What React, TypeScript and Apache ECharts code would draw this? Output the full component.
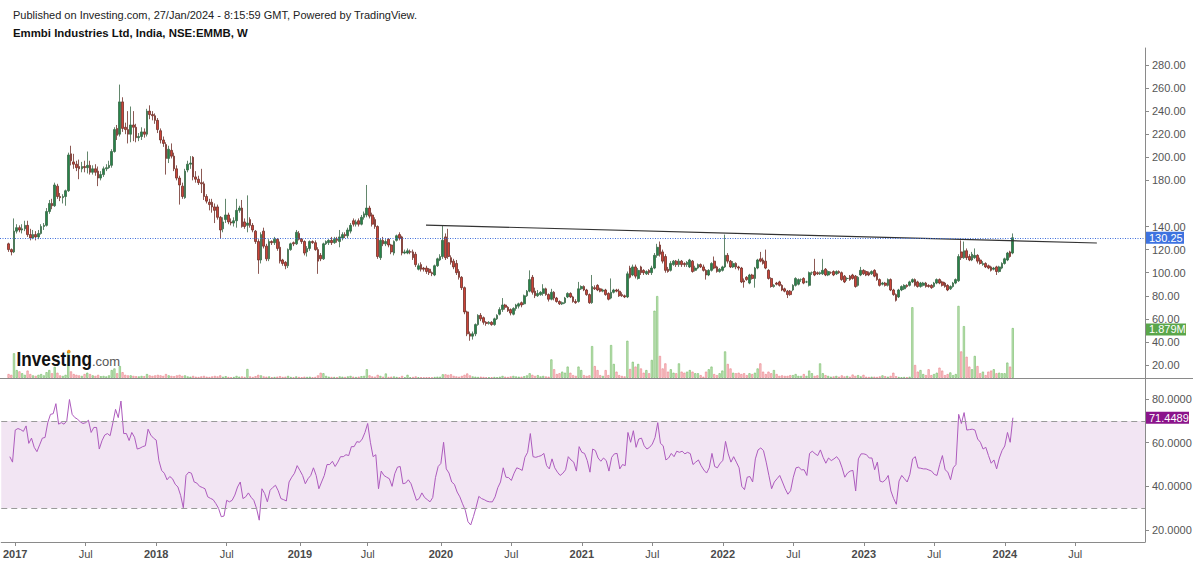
import React, { useEffect, useRef } from "react";
import * as echarts from "echarts";

// Weekly candles: [open, close, low, high]; week 0 = first week of Jan 2017
const ohlcDec2016 = [[125,120,118,126],[120,118,115,121]];
const ohlc2017 = [
[118,136,117,147],[136,139,134,142],[139,137,135,141],[137,138,134,142],[138,141,136,145],[141,133,131,145],[133,130,128,138],[130,133,129,137],[133,131,128,136],[131,134,129,137],
[134,140,133,142],[140,141,137,143],[141,153,140,156],[153,160,151,163],[160,158,155,164],[158,176,157,178],[175,166,164,177],[166,165,162,169],[165,166,160,168],[166,171,158,172],
[171,202,170,204],[203,197,193,210],[196,194,190,203],[194,191,188,197],[192,190,181,198],[190,192,187,196],[192,191,187,197],[191,193,186,205],[193,187,185,197],[187,190,185,193],
[190,187,184,194],[188,182,175,192],[182,185,180,188],[185,190,183,192],[190,191,188,194],[191,193,190,197],[193,205,191,207],[205,224,204,226],[225,219,215,228],[220,248,218,263],
[248,225,222,252],[226,224,220,230],[224,220,212,240],[220,228,213,244],[228,226,214,240],[226,217,213,229],[217,218,214,221],[218,222,215,226],[222,220,217,225],[220,240,218,242],
[240,237,233,245],[237,236,232,240]];
const ohlc2018 = [
[236,232,229,238],[232,224,221,234],[223,215,212,225],[215,212,209,218],[211,199,185,213],[199,207,195,210],[206,201,199,212],[201,190,188,204],[190,182,180,193],[182,176,159,184],
[175,166,164,178],[165,188,164,190],[189,194,187,197],[194,195,190,201],[200,183,180,201],[183,181,178,188],[181,178,176,184],[178,177,169,190],[177,166,163,179],[166,162,160,168],
[161,159,154,164],[161,157,152,164],[157,154,143,160],[157,148,146,159],[148,137,130,149],[138,144,135,148],[146,150,143,164],[150,144,142,152],[144,143,141,147],[143,145,140,148],
[145,154,139,164],[154,156,152,158],[156,140,139,163],[144,140,138,147],[141,143,135,167],[146,141,139,148],[141,137,135,143],[136,127,125,137],[127,111,99,129],[111,133,108,135],
[136,123,121,139],[123,112,110,125],[112,127,110,129],[127,126,124,128],[126,129,124,131],[129,121,119,130],[122,110,108,127],[111,108,106,112],[109,106,103,110],[106,120,104,121],
[120,125,119,126],[126,125,123,127]];
const ohlc2019 = [
[125,135,124,137],[134,129,128,136],[129,127,125,130],[127,117,115,128],[118,121,114,123],[121,127,119,128],[127,126,125,128],[126,120,119,128],[120,110,99,122],[115,112,110,117],
[112,125,111,126],[125,127,124,128],[126,128,124,129],[128,126,124,131],[126,129,125,131],[129,128,126,131],[127,131,122,137],[130,133,128,135],[133,132,130,135],[132,137,130,139],
[136,141,134,143],[145,142,140,147],[142,144,140,146],[145,142,140,147],[142,148,141,150],[148,151,146,153],[150,156,148,176],[156,149,147,158],[150,142,140,152],[146,140,138,148],
[140,114,112,141],[113,128,111,130],[128,125,123,131],[125,127,123,129],[129,124,122,130],[124,118,116,125],[117,127,115,128],[128,132,127,133],[133,130,128,135],[131,117,115,132],
[117,118,116,120],[117,119,116,121],[118,118,116,120],[118,113,111,120],[116,107,105,118],[103,106,102,108],[107,103,101,109],[104,103,101,105],[104,101,99,106],[103,100,98,104],
[100,99,97,101],[98,106,97,107],[106,112,105,113]];
const ohlc2020 = [
[111,114,110,116],[114,128,112,141],[131,113,111,134],[126,114,112,138],[113,109,107,115],[110,105,103,112],[108,100,98,111],[101,96,94,103],[96,87,85,97],[87,66,64,88],
[66,47,45,67],[47,45,41,49],[45,47,42,49],[47,55,45,56],[55,63,54,64],[63,60,58,65],[61,57,55,62],[57,56,54,58],[56,57,55,58],[57,55,54,58],
[55,60,54,61],[60,63,59,64],[64,68,63,70],[68,72,66,78],[72,70,68,73],[70,67,66,71],[68,65,63,69],[64,69,63,70],[69,72,67,73],[71,73,69,74],
[74,72,70,75],[73,80,72,81],[80,84,79,85],[84,94,83,102],[96,83,81,98],[84,80,78,87],[80,82,79,85],[81,83,80,84],[82,86,80,90],[86,81,80,87],
[81,77,75,82],[77,83,76,86],[83,78,76,84],[78,75,74,79],[75,73,72,76],[73,74,72,75],[74,78,73,79],[79,82,78,83],[82,79,78,83],[79,75,74,80],
[75,74,73,77],[75,86,74,92]];
const ohlc2021 = [
[86,88,85,89],[88,85,84,89],[85,81,80,86],[81,74,73,82],[74,88,73,98],[87,86,85,89],[89,85,84,90],[86,84,83,87],[84,85,83,86],[85,81,80,86],
[82,77,76,83],[78,83,77,95],[83,85,82,86],[85,84,83,86],[84,80,79,86],[81,80,79,83],[80,79,78,81],[79,99,78,101],[104,96,95,106],[98,105,97,107],
[105,97,95,107],[95,102,94,104],[105,100,98,106],[102,100,98,103],[99,101,98,102],[102,100,98,103],[100,104,98,106],[104,115,103,117],[115,122,113,125],[124,116,114,127],
[118,110,108,120],[114,102,100,116],[103,101,100,105],[102,108,101,110],[107,110,106,111],[110,107,105,111],[107,110,105,112],[110,107,105,111],[108,107,105,109],[107,109,105,110],
[105,111,104,112],[110,101,100,111],[102,104,101,106],[104,107,103,108],[107,105,104,108],[105,102,101,107],[102,98,94,103],[98,102,97,103],[102,108,101,109],[110,104,103,114],
[105,101,100,106],[101,103,100,104]];
const ohlc2022 = [
[102,105,101,106],[105,115,104,133],[115,110,108,117],[110,105,104,111],[105,108,104,110],[108,105,103,109],[105,104,102,106],[104,92,91,105],[93,92,87,95],[96,94,93,97],
[91,98,90,99],[98,95,94,99],[95,104,87,105],[104,111,103,112],[112,110,109,118],[111,108,107,113],[110,104,103,120],[102,95,94,103],[95,88,87,96],[88,89,87,90],
[91,90,89,92],[92,89,88,93],[89,85,84,90],[86,84,83,87],[84,81,78,85],[84,81,80,85],[85,89,84,90],[89,95,88,96],[90,94,89,95],[94,94,92,95],
[95,91,90,96],[92,92,91,93],[89,100,88,101],[100,100,98,101],[101,98,97,112],[100,99,98,101],[99,100,98,101],[99,102,98,112],[103,98,97,104],[98,101,97,102],
[100,100,99,101],[101,98,97,102],[99,101,98,102],[101,100,99,102],[100,94,93,101],[97,92,91,98],[95,95,93,96],[97,94,93,98],[98,95,94,99],[97,88,87,98],
[89,96,88,97],[98,102,97,105]];
const ohlc2023 = [
[102,99,98,103],[101,98,97,102],[100,98,97,101],[99,101,98,102],[102,97,96,103],[99,94,93,100],[94,89,88,95],[90,91,89,92],[91,89,88,92],[89,94,88,95],
[94,85,84,95],[85,81,80,86],[81,76,75,82],[79,85,78,86],[85,88,84,89],[86,89,85,90],[89,88,87,90],[89,92,88,93],[92,94,91,95],[94,89,88,95],
[92,88,87,93],[88,91,87,92],[89,91,88,92],[91,88,87,92],[89,88,87,90],[89,87,86,90],[88,91,87,92],[91,94,90,95],[94,91,90,95],[92,89,88,93],
[91,88,87,92],[89,85,84,90],[86,88,85,89],[88,91,87,92],[91,94,90,95],[93,114,92,116],[118,113,111,128],[113,119,112,127],[119,113,111,121],[114,111,110,116],
[111,116,110,118],[113,115,112,121],[115,110,108,116],[111,108,107,113],[107,108,106,110],[108,105,104,109],[106,104,103,107],[105,102,101,106],[103,104,102,105],[105,101,98,106],
[101,105,100,106],[104,108,103,109]];
const ohlc2024 = [[108,112,107,113],[111,117,110,118],[118,114,113,119],[117,130.25,116,134]];

// Weekly volume, millions
const volDec2016 = [0.15,0.12];
const vol2017 = [0.93,0.30,0.25,0.18,0.12,0.28,0.15,0.10,0.08,0.12,0.15,0.10,0.22,0.30,0.18,0.42,0.20,0.10,0.08,0.12,1.00,0.25,0.15,0.12,0.10,0.08,0.15,0.20,0.15,0.10,0.08,0.12,0.07,0.08,0.06,0.10,0.30,0.36,0.18,0.45,0.22,0.12,0.10,0.10,0.08,0.07,0.06,0.08,0.07,0.15,0.10,0.08];
const vol2018 = [0.10,0.12,0.10,0.08,0.15,0.10,0.08,0.07,0.10,0.12,0.08,0.10,0.06,0.05,0.08,0.05,0.04,0.06,0.08,0.05,0.04,0.06,0.08,0.06,0.10,0.05,0.07,0.04,0.03,0.04,0.08,0.05,0.06,0.04,0.34,0.06,0.04,0.07,0.12,0.10,0.06,0.05,0.06,0.03,0.04,0.05,0.07,0.04,0.05,0.08,0.04,0.03];
const vol2019 = [0.06,0.04,0.03,0.05,0.04,0.05,0.03,0.04,0.10,0.20,0.18,0.08,0.05,0.04,0.04,0.03,0.06,0.05,0.04,0.06,0.08,0.05,0.04,0.05,0.07,0.08,0.33,0.10,0.06,0.05,0.12,0.08,0.05,0.17,0.04,0.05,0.06,0.04,0.03,0.08,0.03,0.12,0.03,0.04,0.06,0.03,0.03,0.02,0.03,0.03,0.02,0.04,0.05];
const vol2020 = [0.05,0.14,0.14,0.12,0.14,0.08,0.06,0.05,0.08,0.12,0.17,0.10,0.06,0.05,0.04,0.05,0.04,0.03,0.03,0.03,0.04,0.03,0.05,0.08,0.05,0.04,0.06,0.08,0.06,0.05,0.05,0.07,0.10,0.18,0.12,0.08,0.11,0.06,0.08,0.06,0.05,0.70,0.33,0.15,0.18,0.24,0.20,0.43,0.20,0.11,0.08,0.43];
const vol2021 = [0.30,0.11,0.08,0.10,1.20,0.45,0.30,0.11,0.08,0.30,0.11,1.24,0.53,0.24,0.11,0.08,0.06,1.40,0.34,0.61,0.43,0.53,0.36,0.20,0.30,0.18,0.68,2.53,3.08,0.83,0.36,0.55,0.24,0.33,0.20,0.18,0.55,0.24,0.20,0.24,0.30,0.24,0.18,0.18,0.11,0.05,0.24,0.33,0.43,0.15,0.11,0.18];
const vol2022 = [0.28,1.00,0.53,0.36,0.20,0.18,0.20,0.15,0.18,0.11,0.18,0.15,0.20,0.36,0.55,0.24,0.15,0.24,0.18,0.30,0.15,0.08,0.10,0.08,0.08,0.11,0.11,0.15,0.08,0.08,0.15,0.08,0.28,0.18,0.08,0.10,0.55,0.18,0.11,0.08,0.05,0.06,0.08,0.05,0.10,0.06,0.08,0.05,0.13,0.08,0.11,0.06];
const vol2023 = [0.12,0.05,0.04,0.05,0.05,0.04,0.06,0.10,0.07,0.05,0.08,0.20,0.07,0.04,0.03,0.04,0.03,0.05,2.66,0.49,0.24,0.30,0.15,0.11,0.33,0.11,0.15,0.20,0.39,0.28,0.11,0.15,0.21,0.11,0.15,2.71,1.00,1.95,0.80,0.43,0.33,0.83,0.45,0.18,0.24,0.11,0.24,0.28,0.33,0.18,0.20,0.18];
const vol2024 = [0.18,0.58,0.43,1.879];

// RSI(14)
const rsiDec2016 = [53.6,51.1];
const rsi2017 = [65.8,66.5,66.0,65.2,67.7,59.7,62.1,57.9,55.9,59.0,62.1,62.4,69.2,73.0,73.3,77.9,68.5,69.2,68.5,70.0,79.8,73.0,71.5,70.8,69.5,68.8,69.2,70.3,64.7,67.0,67.0,57.1,60.9,63.5,64.2,63.2,69.0,75.3,71.5,79.1,64.2,64.2,61.0,64.7,62.5,57.1,57.5,58.2,58.6,66.2,63.5,62.1];
const rsi2018 = [61.2,51.8,47.3,46.0,43.0,44.5,43.5,41.0,39.7,35.9,30.2,45.0,46.5,46.0,42.0,41.5,40.0,39.5,38.9,35.2,34.5,33.9,32.1,29.9,26.1,26.4,33.6,32.9,33.6,36.0,39.7,42.0,34.4,35.2,37.0,35.0,33.6,29.9,24.5,38.9,36.7,32.9,38.2,39.5,40.5,38.0,34.4,33.9,33.3,42.0,44.2,46.0];
const rsi2019 = [49.5,47.3,45.0,41.2,43.5,45.0,48.5,45.0,38.9,42.0,45.0,50.0,50.0,51.5,49.1,51.1,53.6,53.6,54.5,54.1,58.2,58.2,60.5,60.2,61.7,64.7,68.8,60.2,53.6,54.5,38.9,47.0,45.0,44.2,43.5,40.0,45.8,48.8,49.1,41.2,41.5,43.0,41.2,37.4,33.6,34.4,37.0,34.9,33.9,32.9,34.9,44.0,49.1];
const rsi2020 = [50.5,60.2,48.0,46.1,42.0,40.9,37.4,35.2,32.0,29.1,23.8,22.3,26.1,30.5,35.4,34.4,33.9,33.2,32.9,32.9,35.2,39.4,42.0,48.5,44.2,44.0,42.7,46.0,48.5,48.0,47.3,53.3,55.6,64.2,53.6,53.3,53.7,54.1,55.1,49.5,48.0,52.6,48.5,46.5,45.0,46.0,47.6,53.6,52.1,51.1,47.0,58.2];
const rsi2021 = [55.6,55.1,51.8,46.5,57.1,56.4,53.0,51.5,53.0,51.8,47.0,53.3,54.9,55.1,48.0,50.0,49.5,64.7,60.2,65.5,57.9,61.7,62.1,58.6,57.1,57.9,59.4,62.4,69.2,59.7,58.6,52.1,53.0,55.1,53.6,56.1,55.6,56.1,54.9,55.6,55.0,50.0,51.1,52.1,49.5,47.5,46.1,48.5,55.1,49.1,48.5,50.6];
const rsi2022 = [51.8,60.6,54.9,51.1,53.6,51.1,48.5,40.0,38.5,44.2,44.5,42.0,52.6,56.7,57.6,56.4,51.1,45.0,38.9,42.0,43.5,45.0,42.0,38.9,36.4,38.0,44.2,48.5,48.8,47.6,47.6,45.0,55.1,56.1,55.0,54.1,56.7,53.3,50.6,53.0,51.8,52.6,53.6,52.0,48.5,44.2,46.1,47.0,47.3,37.9,52.6,54.9];
const rsi2023 = [54.9,54.5,53.0,53.0,47.6,51.1,42.4,42.0,43.0,45.0,37.9,34.4,31.8,42.4,45.0,43.5,42.0,45.5,52.6,53.6,48.5,48.3,48.0,48.0,47.5,47.0,45.5,45.0,50.0,54.1,47.6,46.5,43.0,48.5,50.0,73.0,68.8,73.8,65.8,66.0,66.2,65.8,61.7,60.2,57.1,57.9,54.1,50.6,52.1,48.0,53.0,56.4];
const rsi2024 = [58.5,64.7,60.2,71.4489];

const segments = [
  { start: -2, ohlc: ohlcDec2016, vol: volDec2016, rsi: rsiDec2016 },
  { start: 0, ohlc: ohlc2017, vol: vol2017, rsi: rsi2017 },
  { start: 52, ohlc: ohlc2018, vol: vol2018, rsi: rsi2018 },
  { start: 104, ohlc: ohlc2019, vol: vol2019, rsi: rsi2019 },
  { start: 157, ohlc: ohlc2020, vol: vol2020, rsi: rsi2020 },
  { start: 209, ohlc: ohlc2021, vol: vol2021, rsi: rsi2021 },
  { start: 261, ohlc: ohlc2022, vol: vol2022, rsi: rsi2022 },
  { start: 313, ohlc: ohlc2023, vol: vol2023, rsi: rsi2023 },
  { start: 365, ohlc: ohlc2024, vol: vol2024, rsi: rsi2024 },
];

const priceTicks = [20, 40, 60, 80, 100, 120, 140, 180, 200, 220, 240, 260, 280];
const rsiTicks = [20, 40, 60, 80];
const timeTicks = [0, 26, 52, 78, 105, 130, 157, 183, 209, 235, 261, 287, 313, 339, 365, 391];
const timeLabels = ["2017", "Jul", "2018", "Jul", "2019", "Jul", "2020", "Jul", "2021", "Jul", "2022", "Jul", "2023", "Jul", "2024", "Jul"];
const trendLine = [[151.8, 141.2], [399.0, 125.7]];
const lastClose = 130.25;
const lastVolume = 1.879;
const lastRsi = 71.4489;

const FONT = '"Liberation Sans", Arial, sans-serif';
const X0 = 14;
const PXW = 2.714;
const PLOT_W = 1145;
const XMIN = -X0 / PXW;
const XMAX = (PLOT_W - X0) / PXW;

export default function App() {
  const ref = useRef<HTMLDivElement>(null);
  useEffect(() => {
    if (!ref.current) return;
    const chart = echarts.init(ref.current, null, { renderer: "svg" });
    const candles: number[][] = [];
    const vols: any[] = [];
    const rsi: number[][] = [];
    segments.forEach((s) => {
      s.ohlc.forEach((c, i) => {
        const w = s.start + i;
        candles.push([w, c[0], c[1], c[2], c[3]]);
        const up = c[1] >= c[0];
        vols.push({
          value: [w, s.vol[i]],
          itemStyle: up
            ? { color: "rgba(150,205,135,0.55)", borderColor: "rgba(120,190,105,0.9)", borderWidth: 0.7 }
            : { color: "rgba(245,160,165,0.55)", borderColor: "rgba(235,130,138,0.9)", borderWidth: 0.7 },
        });
        rsi.push([w, s.rsi[i]]);
      });
    });

    const xBase = { type: "value", min: XMIN, max: XMAX, splitLine: { show: false } } as any;
    const axisLineStyle = { show: true, onZero: false, lineStyle: { color: "#8a8a8a", width: 1 } };
    const option: any = {
      animation: false,
      backgroundColor: "#ffffff",
      textStyle: { fontFamily: FONT },
      grid: [
        { left: 0, top: 48, width: PLOT_W, height: 330 },
        { left: 0, top: 48, width: PLOT_W, height: 330 },
        { left: 0, top: 379, width: PLOT_W, height: 163 },
      ],
      xAxis: [
        { ...xBase, gridIndex: 0, show: false, axisLine: { show: false, onZero: false } },
        { ...xBase, gridIndex: 1, show: false, axisLine: { show: false, onZero: false } },
        {
          ...xBase,
          gridIndex: 2,
          position: "bottom",
          axisLine: axisLineStyle,
          axisTick: { show: true, customValues: timeTicks, length: 4, lineStyle: { color: "#8a8a8a" } },
          axisLabel: {
            show: true,
            customValues: timeTicks,
            margin: 6,
            formatter: (v: number) => {
              const idx = timeTicks.indexOf(Math.round(v));
              const t = idx >= 0 ? timeLabels[idx] : "";
              return t === "Jul" ? "{m|Jul}" : "{y|" + t + "}";
            },
            rich: {
              y: { fontFamily: FONT, fontSize: 11, fontWeight: "bold", color: "#4a4a4a" },
              m: { fontFamily: FONT, fontSize: 11, color: "#4a4a4a" },
            },
          },
        },
      ],
      yAxis: [
        {
          type: "value",
          gridIndex: 0,
          position: "right",
          min: 8.73,
          max: 294.7,
          splitLine: { show: false },
          axisLine: axisLineStyle,
          axisTick: { show: true, customValues: priceTicks, length: 4, lineStyle: { color: "#8a8a8a" } },
          axisLabel: {
            show: true,
            customValues: priceTicks,
            margin: 7,
            fontFamily: FONT,
            fontSize: 11,
            color: "#555555",
            formatter: (v: number) => v.toFixed(2),
          },
        },
        { type: "value", gridIndex: 1, min: 0, max: 12.4, show: false, splitLine: { show: false }, axisLine: { show: false, onZero: false } },
        {
          type: "value",
          gridIndex: 2,
          position: "right",
          min: 14.5,
          max: 89.2,
          splitLine: { show: false },
          axisLine: axisLineStyle,
          axisTick: { show: true, customValues: rsiTicks, length: 4, lineStyle: { color: "#8a8a8a" } },
          axisLabel: {
            show: true,
            customValues: rsiTicks,
            margin: 7,
            fontFamily: FONT,
            fontSize: 11,
            color: "#555555",
            formatter: (v: number) => v.toFixed(4),
          },
        },
      ],
      series: [
        {
          type: "bar",
          name: "Volume",
          xAxisIndex: 1,
          yAxisIndex: 1,
          data: vols,
          barWidth: 2.2,
          z: 1,
        },
        {
          type: "candlestick",
          name: "Price",
          xAxisIndex: 0,
          yAxisIndex: 0,
          data: candles,
          encode: { x: 0, y: [1, 2, 3, 4] },
          barWidth: 2.2,
          z: 3,
          itemStyle: {
            color: "#26844a",
            color0: "#cc4438",
            borderColor: "#3b6848",
            borderColor0: "#6e302a",
            borderWidth: 0.8,
          },
          markLine: {
            silent: true,
            symbol: "none",
            label: { show: false },
            lineStyle: { color: "#3f6fdc", type: [1, 1.5], width: 1 },
            data: [{ yAxis: lastClose }],
          },
        },
        {
          type: "line",
          name: "Trend",
          xAxisIndex: 0,
          yAxisIndex: 0,
          data: trendLine,
          symbol: "none",
          z: 4,
          lineStyle: { color: "#333333", width: 1.1 },
        },
        {
          type: "line",
          name: "RSI",
          xAxisIndex: 2,
          yAxisIndex: 2,
          data: rsi,
          symbol: "none",
          z: 3,
          lineStyle: { color: "#ad5bbd", width: 1 },
          markArea: {
            silent: true,
            itemStyle: { color: "rgb(242,229,243)" },
            data: [[{ yAxis: 30 }, { yAxis: 70 }]],
          },
          markLine: {
            silent: true,
            symbol: "none",
            label: { show: false },
            lineStyle: { color: "#9a9a9a", type: [6, 4], width: 1 },
            data: [{ yAxis: 70 }, { yAxis: 30 }],
          },
        },
      ],
    };
    chart.setOption(option);

    const yPrice = chart.convertToPixel({ yAxisIndex: 0 }, lastClose) as number;
    const yVol = chart.convertToPixel({ yAxisIndex: 1 }, lastVolume) as number;
    const yRsi = chart.convertToPixel({ yAxisIndex: 2 }, lastRsi) as number;
    const tag = (y: number, text: string, fill: string, w: number, dy: number) => ({
      type: "group",
      z: 100,
      children: [
        { type: "rect", shape: { x: 1146, y: y - 6 + dy, width: w, height: 12 }, style: { fill } },
        {
          type: "text",
          x: 1149,
          y: y + dy,
          style: { text, fill: "#ffffff", font: "11px " + FONT, textAlign: "left", textVerticalAlign: "middle" },
        },
      ],
    });

    chart.setOption({
      graphic: [
        {
          type: "text",
          x: 13,
          y: 15,
          z: 100,
          style: {
            text: "Published on Investing.com, 27/Jan/2024 - 8:15:59 GMT, Powered by TradingView.",
            fill: "#222222",
            font: "11px " + FONT,
            textAlign: "left",
            textVerticalAlign: "middle",
          },
        },
        {
          type: "text",
          x: 13,
          y: 33,
          z: 100,
          style: {
            text: "Emmbi Industries Ltd, India, NSE:EMMB, W",
            fill: "#111111",
            font: "bold 11.4px " + FONT,
            textAlign: "left",
            textVerticalAlign: "middle",
          },
        },
        {
          type: "line",
          z: 100,
          shape: { x1: 0, y1: 378.5, x2: 1193, y2: 378.5 },
          style: { stroke: "#8a8a8a", lineWidth: 1 },
        },
        {
          type: "text",
          x: 16.5,
          y: 359,
          scaleX: 0.86,
          z: 100,
          style: { text: "Investing", fill: "#111111", font: "bold 20px " + FONT, textAlign: "left", textVerticalAlign: "middle" },
        },
        { type: "circle", z: 101, shape: { cx: 68.8, cy: 351.5, r: 1.8 }, style: { fill: "#f29b1d" } },
        {
          type: "text",
          x: 92,
          y: 361,
          z: 100,
          style: { text: ".com", fill: "#555555", font: "13px " + FONT, textAlign: "left", textVerticalAlign: "middle" },
        },
        tag(yPrice, "130.25", "#3d72e0", 38, 0),
        tag(yVol, "1.879M", "#5aa64a", 40, 1.5),
        tag(yRsi, "71.4489", "#8b148b", 43, 0),
      ],
    });

    return () => chart.dispose();
  }, []);
  return <div ref={ref} style={{ position: "absolute", left: 0, top: 0, width: 1200, height: 564 }} />;
}
